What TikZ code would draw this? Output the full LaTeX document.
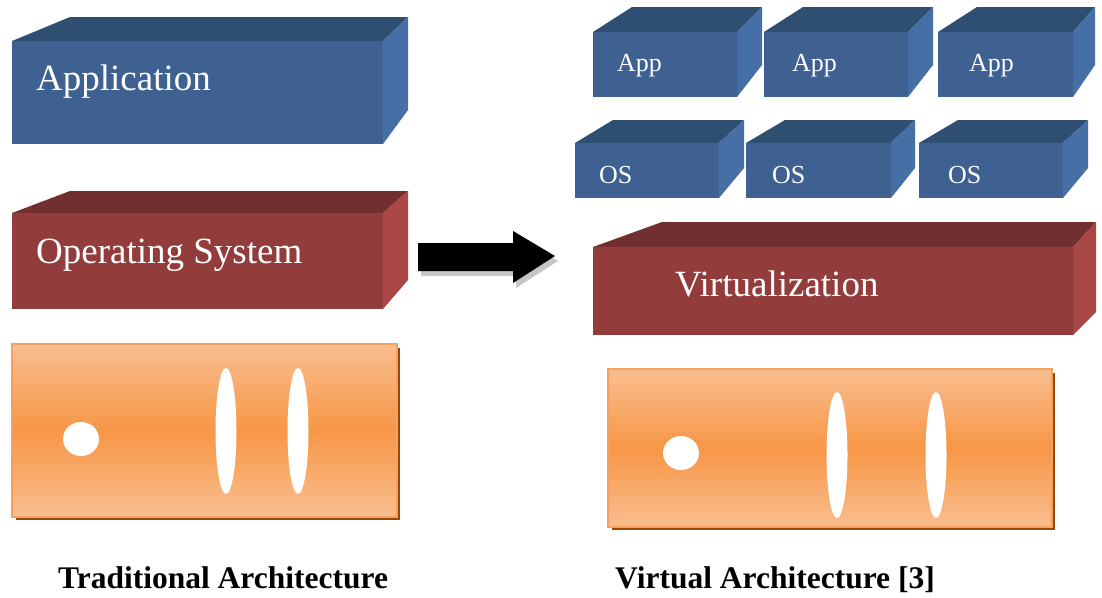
\documentclass[tikz,border=0pt]{standalone}
\usepackage{fontspec}
\setmainfont{Liberation Serif}
\definecolor{blueFront}{HTML}{3E6191}
\definecolor{blueTop}{HTML}{2F4F72}
\definecolor{blueSide}{HTML}{4670A5}
\definecolor{redFront}{HTML}{923D3C}
\definecolor{redTop}{HTML}{722F2F}
\definecolor{redSide}{HTML}{A84745}
\definecolor{hwLight}{HTML}{F9BE8F}
\definecolor{hwMid}{HTML}{F79646}
\definecolor{hwEdge}{HTML}{F5A060}
\definecolor{hwShadow}{HTML}{984807}
% #1 front left, #2 front top, #3 front right, #4 front bottom,
% #5 back left, #6 back right, #7 back top, #8 side bottom, #9 colour prefix
\newcommand\slabbox[9]{%
  \fill[#9Top] (#1,#2) -- (#5,#7) -- (#6,#7) -- (#3,#2) -- cycle;
  \fill[#9Side] (#3,#2) -- (#6,#7) -- (#6,#8) -- (#3,#4) -- cycle;
  \fill[#9Front] (#1,#2) rectangle (#3,#4);
}
\newcommand\hwbox[8]{%
  % #1 left #2 top #3 right #4 bottom, dot centre (#5), slot x's #6 #7, slot y #8
  \fill[hwShadow] (#1+4,#2+4) rectangle (#3+3,#4+3);
  \shade[top color=hwLight, bottom color=hwLight, middle color=hwMid]
     (#1,#2) rectangle (#3,#4);
  \draw[hwEdge, line width=1.5pt] (#1,#2) rectangle (#3,#4);
  \fill[white] (#5) ellipse [x radius=18, y radius=17];
  \fill[white] (#6,#8) ellipse [x radius=10.5, y radius=63];
  \fill[white] (#7,#8) ellipse [x radius=10.5, y radius=63];
}
\tikzset{
  bigtext/.style={text=white, anchor=base west, inner sep=0pt,
    font=\fontsize{37}{40}\selectfont},
  smalltext/.style={text=white, anchor=base west, inner sep=0pt,
    font=\fontsize{26}{28}\selectfont},
  captext/.style={text=black, anchor=base west, inner sep=0pt,
    font=\bfseries\fontsize{31.5}{34}\selectfont}
}
\begin{document}
\begin{tikzpicture}[x=1pt,y=-1pt]
\useasboundingbox (0,0) rectangle (1102,597);
% ---------- traditional ----------
\slabbox{12}{41}{383}{144}{70}{408}{17}{110}{blue}
\node[bigtext] (app) at (36,90) {Application};
\slabbox{12}{213}{383}{309}{70}{408}{191}{280}{red}
\node[bigtext] (os) at (36,263) {Operating System};
\hwbox{12}{344}{397}{517}{81,439}{226}{298}{431}
% ---------- arrow ----------
\fill[gray!45] (421,248) -- (516,248) -- (516,236) -- (558,261) -- (516,288) -- (516,276) -- (421,276) -- cycle;
\fill[black] (418,243) -- (513,243) -- (513,231) -- (555,256) -- (513,283) -- (513,271) -- (418,271) -- cycle;
% ---------- virtual ----------
\slabbox{593}{32}{737}{97}{632}{762}{7}{65}{blue}
\slabbox{764}{32}{908}{97}{803}{933}{7}{65}{blue}
\slabbox{938}{32}{1073}{97}{977}{1095}{7}{65}{blue}
\node[smalltext] (app1) at (617,71) {App};
\node[smalltext] (app2) at (792,71) {App};
\node[smalltext] (app3) at (969,71) {App};
\slabbox{575}{143}{719}{198}{613}{744}{120}{168}{blue}
\slabbox{746}{143}{891}{198}{785}{915}{120}{168}{blue}
\slabbox{919}{143}{1063}{198}{958}{1088}{120}{168}{blue}
\node[smalltext] (os1) at (599,183) {OS};
\node[smalltext] (os2) at (772,183) {OS};
\node[smalltext] (os3) at (948,183) {OS};
\slabbox{593}{247}{1073}{335}{662}{1096}{222}{312}{red}
\node[bigtext] (virt) at (675,296) {Virtualization};
\hwbox{608}{369}{1052}{527}{681,453}{837}{936}{455}
% ---------- captions ----------
\node[captext] (cap1) at (58,588) {Traditional Architecture};
\node[captext] (cap2) at (615,588) {Virtual Architecture [3]};
\end{tikzpicture}
\end{document}
